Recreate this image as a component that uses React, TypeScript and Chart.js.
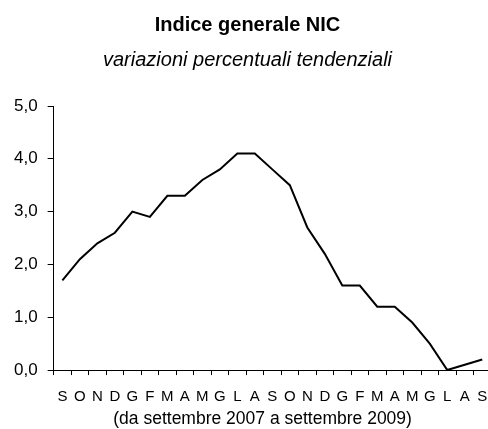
import React, { useEffect, useRef } from "react";
import { Chart, registerables } from "chart.js";

Chart.register(...registerables);

const months: string[] = [
  "S", "O", "N", "D", "G", "F", "M", "A", "M", "G", "L", "A",
  "S", "O", "N", "D", "G", "F", "M", "A", "M", "G", "L", "A", "S",
];
const nicValues: number[] = [
  1.7, 2.1, 2.4, 2.6, 3.0, 2.9, 3.3, 3.3, 3.6, 3.8, 4.1, 4.1,
  3.8, 3.5, 2.7, 2.2, 1.6, 1.6, 1.2, 1.2, 0.9, 0.5, 0.0, 0.1, 0.2,
];
const yTicks: number[] = [0, 1, 2, 3, 4, 5];
const titleText = "Indice generale NIC";
const subtitleText = "variazioni percentuali tendenziali";
const xAxisTitle = "(da settembre 2007 a settembre 2009)    ";

const SANS = "'Liberation Sans', Arial, sans-serif";

export default function App() {
  const ref = useRef<HTMLCanvasElement | null>(null);
  useEffect(() => {
    document.body.style.margin = "0";
    const canvas = ref.current;
    if (!canvas) return;
    const chart = new Chart(canvas, {
      type: "line",
      data: {
        labels: months,
        datasets: [
          {
            data: nicValues,
            borderColor: "#000000",
            borderWidth: 2,
            pointRadius: 0,
            tension: 0,
            fill: false,
          },
        ],
      },
      options: {
        animation: false,
        responsive: false,
        devicePixelRatio: 1,
        layout: { padding: { left: 4, right: 0, top: 0, bottom: 0 } },
        plugins: {
          legend: { display: false },
          tooltip: { enabled: false },
          title: {
            display: true,
            text: titleText,
            color: "#000",
            font: { family: SANS, size: 20, weight: "bold", lineHeight: 1.2 },
            padding: { top: 13, bottom: 11 },
          },
          subtitle: {
            display: true,
            text: subtitleText,
            color: "#000",
            font: { family: SANS, size: 20, style: "italic", lineHeight: 1.2 },
            padding: { top: 0, bottom: 34 },
          },
        },
        scales: {
          x: {
            type: "category",
            offset: true,
            grid: {
              offset: true,
              drawOnChartArea: false,
              drawTicks: true,
              tickLength: 5,
              color: "#000",
            },
            border: { display: true, color: "#000", width: 1 },
            ticks: {
              autoSkip: false,
              maxRotation: 0,
              minRotation: 0,
              color: "#000",
              padding: 3,
              font: { family: SANS, size: 15, lineHeight: 2.53 },
            },
            title: {
              display: true,
              text: xAxisTitle,
              color: "#000",
              font: { family: SANS, size: 17.5 },
              padding: { top: -10, bottom: -1 },
            },
          },
          y: {
            min: 0,
            max: 5,
            afterBuildTicks: (axis: any) => {
              axis.ticks = yTicks.map((v) => ({ value: v }));
            },
            grid: {
              drawOnChartArea: false,
              drawTicks: true,
              tickLength: 6,
              color: "#000",
            },
            border: { display: true, color: "#000", width: 1 },
            ticks: {
              color: "#000",
              padding: 10,
              font: { family: SANS, size: 17 },
              callback: (v: any) => Number(v).toFixed(1).replace(".", ","),
            },
          },
        },
      },
    });
    return () => chart.destroy();
  }, []);
  return (
    <div
      style={{
        position: "absolute",
        left: 0,
        top: 0,
        width: 488,
        height: 429,
        overflow: "hidden",
        background: "#fff",
      }}
    >
      <canvas ref={ref} width={491} height={429} style={{ width: 491, height: 429, display: "block" }} />
    </div>
  );
}
